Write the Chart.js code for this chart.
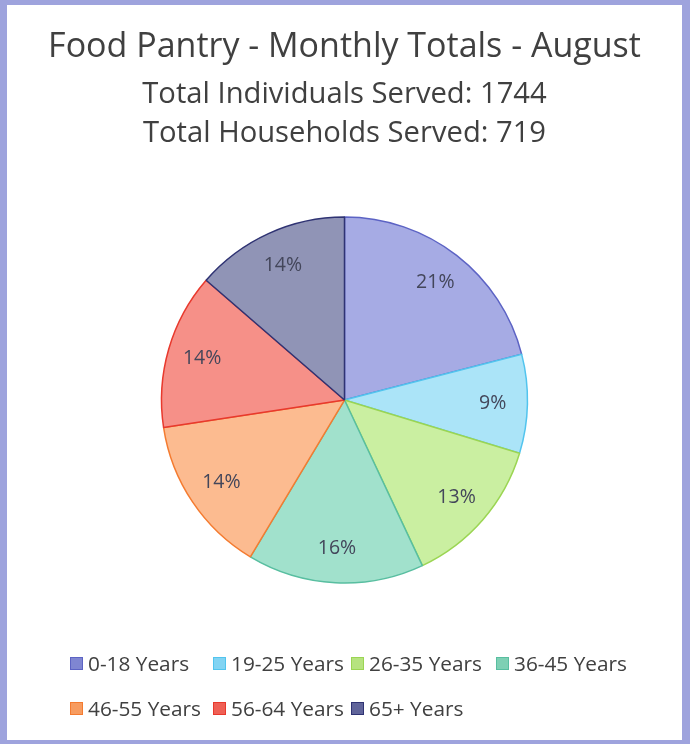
<!DOCTYPE html>
<html>
<head>
<meta charset="utf-8">
<script src="https://cdn.jsdelivr.net/npm/chart.js@4.4.0/dist/chart.umd.min.js"></script>
<style>
  html, body { margin: 0; padding: 0; }
  body { width: 690px; height: 744px; background: #9ea3dd; position: relative; overflow: hidden; }
  #panel { position: absolute; left: 7px; top: 5px; width: 675px; height: 735px; background: #fff; }
  #panel canvas { position: absolute; left: 0; top: 0; }
  #legend {
    position: absolute; left: 63px; top: 646px;
    display: grid; grid-template-columns: 143px 138px 145px auto; grid-auto-rows: 45px;
    font-family: "Open Sans", sans-serif; font-size: 20.8px; color: #404040;
  }
  #legend .item { display: flex; align-items: center; height: 24px; white-space: nowrap; }
  #legend .box { width: 11px; height: 11px; border: 1px solid; margin-right: 5px; }
</style>
</head>
<body>
<div id="panel">
  <canvas id="pieChart" width="675" height="735"></canvas>
  <div id="legend"></div>
</div>
<script>
// age groups and counts (out of 1744 individuals)
var ageGroups = ['0-18 Years', '19-25 Years', '26-35 Years', '36-45 Years', '46-55 Years', '56-64 Years', '65+ Years'];
var served = [366, 152, 232, 272, 244, 240, 238];

var titleText = 'Food Pantry - Monthly Totals - August';
var subtitleLines = ['Total Individuals Served: 1744', 'Total Households Served: 719'];

var sliceFill = ['#a6abe4', '#abe4f8', '#caefa1', '#a1e1cc', '#fcbb90', '#f69088', '#9094b6'];
var sliceBorder = ['#5c63c4', '#52c4ee', '#9bd553', '#58bea0', '#f47b30', '#e8392d', '#2f3373'];
var legendFill = ['#7f86d2', '#82d4f3', '#b6e37f', '#7ed0b4', '#f79c60', '#ef6055', '#60649a'];

// percentage labels inside each slice
var pctLabels = {
  id: 'pctLabels',
  afterDatasetsDraw(chart) {
    var ctx = chart.ctx;
    var meta = chart.getDatasetMeta(0);
    var vals = chart.data.datasets[0].data;
    var total = vals.reduce(function (a, b) { return a + b; }, 0);
    ctx.save();
    ctx.font = '19.5px "Open Sans"';
    ctx.fillStyle = '#43465a';
    ctx.textAlign = 'center';
    ctx.textBaseline = 'middle';
    meta.data.forEach(function (arc, i) {
      var p = arc.getProps(['x', 'y', 'startAngle', 'endAngle', 'outerRadius']);
      var mid = (p.startAngle + p.endAngle) / 2;
      var r = p.outerRadius * 0.81;
      ctx.fillText(Math.round(vals[i] / total * 100) + '%', p.x + Math.cos(mid) * r, p.y + Math.sin(mid) * r);
    });
    ctx.restore();
  }
};

// html legend built from the library's own legend items
var htmlLegend = {
  id: 'htmlLegend',
  afterUpdate(chart) {
    var el = document.getElementById('legend');
    el.innerHTML = '';
    var items = Chart.overrides.pie.plugins.legend.labels.generateLabels(chart);
    items.forEach(function (it, i) {
      var d = document.createElement('div');
      d.className = 'item';
      var b = document.createElement('span');
      b.className = 'box';
      b.style.background = legendFill[i];
      b.style.borderColor = it.strokeStyle;
      d.appendChild(b);
      d.appendChild(document.createTextNode(it.text));
      el.appendChild(d);
    });
  }
};

new Chart(document.getElementById('pieChart'), {
  type: 'pie',
  data: {
    labels: ageGroups,
    datasets: [{
      data: served,
      backgroundColor: sliceFill,
      borderColor: sliceBorder,
      borderWidth: 1.5
    }]
  },
  options: {
    responsive: false,
    animation: false,
    layout: { padding: { top: 0, bottom: 156.25, left: 0, right: 0 } },
    plugins: {
      legend: { display: false },
      tooltip: { enabled: false },
      title: {
        display: true,
        text: titleText,
        color: '#404040',
        font: { family: 'Open Sans', size: 34, weight: 'normal', lineHeight: 1.2 },
        padding: { top: 21.6, bottom: 7.6 }
      },
      subtitle: {
        display: true,
        text: subtitleLines,
        color: '#404040',
        font: { family: 'Open Sans', size: 29.2, weight: 'normal', lineHeight: 1.336 },
        padding: { top: 0, bottom: 63.25 }
      }
    }
  },
  plugins: [pctLabels, htmlLegend]
});
</script>
</body>
</html>
